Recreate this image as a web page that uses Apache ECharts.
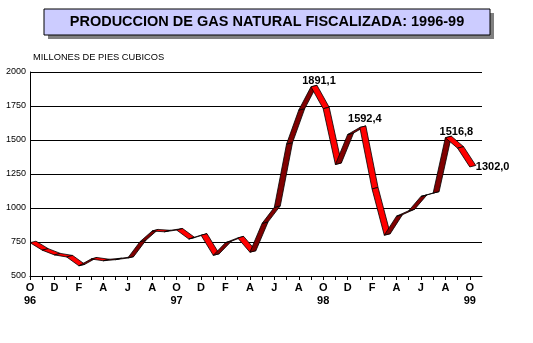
<!DOCTYPE html>
<html>
<head>
<meta charset="utf-8">
<script src="https://cdn.jsdelivr.net/npm/echarts@6/dist/echarts.min.js"></script>
<style>
  html, body { margin: 0; padding: 0; background: #fff; }
  #chart { width: 533px; height: 343px; }
</style>
</head>
<body>
<div id="chart"></div>
<script>
// Monthly production, October 1996 to October 1999 (million cubic feet)
const months = ['O','N','D','J','F','M','A','M','J','J','A','S',
                'O','N','D','J','F','M','A','M','J','J','A','S',
                'O','N','D','J','F','M','A','M','J','J','A','S',
                'O'];
const yearLabels = { 0: '96', 12: '97', 24: '98', 36: '99' };
const production = [745, 690, 655, 640, 575, 625, 612, 620, 632, 752, 831, 825,
                    838, 772, 800, 652, 745, 780, 675, 887, 1005, 1470, 1720, 1891.1,
                    1730, 1320, 1540, 1592.4, 1140, 800, 940, 980, 1085, 1110, 1516.8, 1440,
                    1302.0];
// Points carrying a value label: [month index, value, text]
const labelled = [
  [23, 1891.1, '1891,1'],
  [27, 1592.4, '1592,4'],
  [34, 1516.8, '1516,8'],
  [36, 1302.0, '1302,0']
];
const yTicks = { min: 500, max: 2000, step: 250 };

// segment list for the ribbon: [start index, start value, end value]
const segments = [];
for (let i = 0; i < production.length - 1; i++) {
  segments.push([i, production[i], production[i + 1]]);
}

// depth of the 3D ribbon, in pixels
const DEPTH = [6, -1.5];
// where each value label sits relative to its point
const labelPlacement = [
  { offset: [8, -6], align: 'center' },
  { offset: [5, -8], align: 'center' },
  { offset: [11, -6], align: 'center' },
  { offset: [6, 0], align: 'left' }
];

const FONT = '"Liberation Sans", Arial, sans-serif';

const chart = echarts.init(document.getElementById('chart'), null, { renderer: 'canvas' });

chart.setOption({
  animation: false,
  backgroundColor: '#ffffff',
  grid: { left: 30, right: 51, top: 72, bottom: 67, containLabel: false },
  graphic: [
    { type: 'rect', shape: { x: 48, y: 13, width: 446, height: 26 }, style: { fill: '#808080' }, z: 10 },
    { type: 'rect', shape: { x: 44, y: 9, width: 446, height: 26 },
      style: { fill: '#ccccff', stroke: '#000000', lineWidth: 1 }, z: 11 },
    { type: 'text', x: 267, y: 22, z: 12,
      style: { text: 'PRODUCCION DE GAS NATURAL FISCALIZADA: 1996-99',
               fill: '#000', font: 'bold 14.5px ' + FONT,
               align: 'center', verticalAlign: 'middle' } },
    { type: 'text', x: 33, y: 57, z: 12,
      style: { text: 'MILLONES DE PIES CUBICOS', fill: '#000',
               font: '9.3px ' + FONT,
               align: 'left', verticalAlign: 'middle' } }
  ],
  xAxis: {
    type: 'value', min: 0, max: 37, interval: 1,
    axisLine: { show: true, lineStyle: { color: '#000', width: 1 } },
    axisTick: { show: true, length: 4, inside: false, lineStyle: { color: '#000' } },
    splitLine: { show: false },
    axisLabel: {
      margin: 5,
      showMaxLabel: false,
      formatter: function (v) {
        if (v % 2 !== 0 || v >= months.length) return '';
        const y = yearLabels[v];
        return y ? '{m|' + months[v] + '}\n{y|' + y + '}' : '{m|' + months[v] + '}';
      },
      rich: {
        m: { fontFamily: FONT, fontWeight: 'bold', fontSize: 11, color: '#000', lineHeight: 13 },
        y: { fontFamily: FONT, fontWeight: 'bold', fontSize: 11, color: '#000', lineHeight: 13 }
      }
    }
  },
  yAxis: {
    type: 'value', min: yTicks.min, max: yTicks.max, interval: yTicks.step,
    axisLine: { show: true, lineStyle: { color: '#000', width: 1 } },
    axisTick: { show: false },
    splitLine: { show: true, lineStyle: { color: '#000', width: 1 } },
    axisLabel: { color: '#000', fontSize: 9, margin: 4, fontFamily: FONT,
                 formatter: v => String(v) }
  },
  series: [
    {
      type: 'custom',
      data: segments,
      clip: false,
      encode: { x: 0, y: [1, 2] },
      z: 5,
      renderItem: function (params, api) {
        const i = api.value(0);
        const p1 = api.coord([i, api.value(1)]);
        const p2 = api.coord([i + 1, api.value(2)]);
        const falling = api.value(2) < api.value(1);
        return {
          type: 'polygon',
          shape: { points: [
            p1, p2,
            [p2[0] + DEPTH[0], p2[1] + DEPTH[1]],
            [p1[0] + DEPTH[0], p1[1] + DEPTH[1]]
          ] },
          style: { fill: falling ? '#ff0000' : '#800000', stroke: '#000', lineWidth: 0.8 }
        };
      }
    },
    {
      type: 'scatter',
      symbolSize: 0,
      z: 6,
      itemStyle: { opacity: 1 },
      data: labelled.map((d, k) => ({
        value: [d[0], d[1]],
        name: d[2],
        label: {
          show: true,
          position: 'inside',
          align: labelPlacement[k].align,
          verticalAlign: 'middle',
          offset: labelPlacement[k].offset,
          color: '#000000',
          opacity: 1
        }
      })),
      label: {
        show: true,
        formatter: p => p.name,
        color: '#000000',
        opacity: 1,
        textBorderWidth: 0,
        fontFamily: FONT,
        fontWeight: 'bold',
        fontSize: 11
      }
    }
  ]
});
</script>
</body>
</html>
